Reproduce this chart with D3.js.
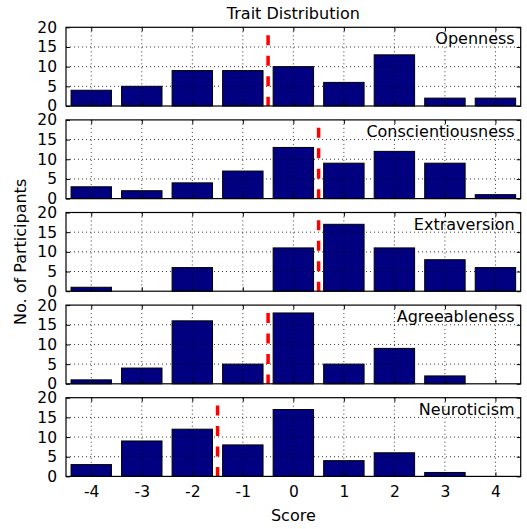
<!DOCTYPE html>
<html>
<head>
<meta charset="utf-8">
<script src="https://cdn.jsdelivr.net/npm/d3@7"></script>
<style>
  body { margin: 0; background: #fff; }
  svg text { font-family: "DejaVu Sans", sans-serif; fill: #000; }
</style>
</head>
<body>
<svg id="chart" width="527" height="529"></svg>
<script>
// data
const scores = [-4, -3, -2, -1, 0, 1, 2, 3, 4];
const traits = ["Openness", "Conscientiousness", "Extraversion", "Agreeableness", "Neuroticism"];
const openness = [4, 5, 9, 9, 10, 6, 13, 2, 2];
const conscientiousness = [3, 2, 4, 7, 13, 9, 12, 9, 1];
const extraversion = [1, 0, 6, 0, 11, 17, 11, 8, 6];
const agreeableness = [1, 4, 16, 5, 18, 5, 9, 2, 0];
const neuroticism = [3, 9, 12, 8, 17, 4, 6, 1, 0];
const medians = [-0.5, 0.5, 0.5, -0.5, -1.5];
const yTicks = [0, 5, 10, 15, 20];
const lineTop = 18;

const counts = [openness, conscientiousness, extraversion, agreeableness, neuroticism];

const svg = d3.select("#chart");
const left = 66, right = 520.7;
const firstTop = 27.3, pitch = 92.6, panelH = 78.7;

const x = d3.scaleLinear().domain([-4.5, 4.5]).range([left, right]);

svg.append("text")
    .attr("x", (left + right) / 2)
    .attr("y", 19)
    .attr("text-anchor", "middle")
    .style("font-size", "16px")
    .text("Trait Distribution");

traits.forEach((name, i) => {
    const top = firstTop + i * pitch;
    const y = d3.scaleLinear().domain([0, 20]).range([top + panelH, top]);
    const g = svg.append("g");
    const vals = counts[i];

    // bars
    g.selectAll("rect.bar").data(scores).enter().append("rect")
        .attr("class", "bar")
        .attr("x", d => x(d - 0.4))
        .attr("width", x(0.4) - x(-0.4))
        .attr("y", (d, j) => y(vals[j]))
        .attr("height", (d, j) => y(0) - y(vals[j]))
        .attr("fill", "#000080")
        .attr("stroke", "#000")
        .attr("stroke-width", 1);

    // grid (drawn over the bars)
    g.selectAll("line.vgrid").data(scores).enter().append("line")
        .attr("x1", d => x(d)).attr("x2", d => x(d))
        .attr("y1", y(20)).attr("y2", y(0))
        .attr("stroke", "#000").attr("stroke-width", 0.8)
        .attr("stroke-dasharray", "1,3");
    g.selectAll("line.hgrid").data(yTicks.slice(1, -1)).enter().append("line")
        .attr("x1", left).attr("x2", right)
        .attr("y1", d => y(d)).attr("y2", d => y(d))
        .attr("stroke", "#000").attr("stroke-width", 0.8)
        .attr("stroke-dasharray", "1,3");

    // median line
    g.append("line")
        .attr("x1", x(medians[i])).attr("x2", x(medians[i]))
        .attr("y1", y(lineTop)).attr("y2", y(0))
        .attr("stroke", "red").attr("stroke-width", 3.5)
        .attr("stroke-dasharray", "10,10.5");

    // inward ticks
    const yAxis = d3.axisLeft(y).tickValues(yTicks).tickSize(-4).tickPadding(9);
    const yAx = g.append("g").attr("transform", `translate(${left},0)`).call(yAxis);
    const yAxR = g.append("g").attr("transform", `translate(${right},0)`)
        .call(d3.axisRight(y).tickValues(yTicks).tickSize(-4).tickFormat(""));
    const xAxB = g.append("g").attr("transform", `translate(0,${y(0)})`)
        .call(d3.axisBottom(x).tickValues(scores).tickSize(-4).tickPadding(10)
            .tickFormat(i === traits.length - 1 ? d => String(d) : ""));
    const xAxT = g.append("g").attr("transform", `translate(0,${y(20)})`)
        .call(d3.axisTop(x).tickValues(scores).tickSize(-4).tickFormat(""));
    [yAx, yAxR, xAxB, xAxT].forEach(a => {
        a.select(".domain").remove();
        a.selectAll("line").attr("stroke", "#000");
        a.selectAll("text").style("font-size", "15.5px").attr("font-family", null);
    });
    xAxB.selectAll("text").attr("dy", "0.71em");

    // frame
    g.append("rect")
        .attr("x", left).attr("y", top)
        .attr("width", right - left).attr("height", panelH)
        .attr("fill", "none").attr("stroke", "#000").attr("stroke-width", 1.2);

    g.append("text")
        .attr("x", right - 6)
        .attr("y", top + 17)
        .attr("text-anchor", "end")
        .style("font-size", "16px")
        .text(name);
});

svg.append("text")
    .attr("x", (left + right) / 2)
    .attr("y", 521)
    .attr("text-anchor", "middle")
    .style("font-size", "16px")
    .text("Score");

svg.append("text")
    .attr("transform", `translate(26,${firstTop + (4 * pitch + panelH) / 2}) rotate(-90)`)
    .attr("text-anchor", "middle")
    .style("font-size", "16px")
    .text("No. of Participants");
</script>
</body>
</html>
